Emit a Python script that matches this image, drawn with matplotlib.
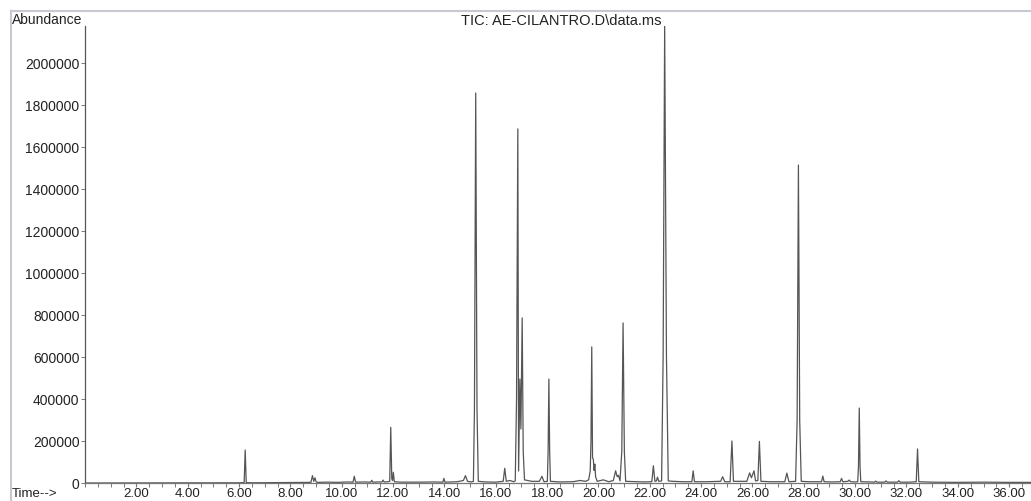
import matplotlib
matplotlib.use("Agg")
import matplotlib.pyplot as plt
from matplotlib.lines import Line2D
from matplotlib.ticker import FixedLocator, MultipleLocator

plt.rcParams['font.family'] = ['Liberation Sans', 'DejaVu Sans']

# retention time (min) and abundance of the TIC trace
rt = [0.05, 6.00, 6.20, 6.24, 6.28, 6.50,
      8.00, 8.80, 8.86, 8.91, 8.96, 9.00, 9.05, 9.40,
      9.90, 10.20, 10.44, 10.49, 10.54, 10.90, 11.13, 11.17, 11.21, 11.40, 11.57, 11.61, 11.65,
      11.80, 11.87, 11.91, 11.95, 11.98, 12.01, 12.05, 12.30,
      13.00, 13.60, 13.94, 13.98, 14.02, 14.50, 14.74, 14.82, 14.90, 15.05,
      15.13, 15.17, 15.22, 15.27, 15.32, 15.60, 16.00,
      16.29, 16.35, 16.41, 16.55, 16.70,
      16.76, 16.81, 16.86, 16.89, 16.94, 16.98, 17.03, 17.07, 17.12, 17.40,
      17.70, 17.80, 17.88, 18.01, 18.04, 18.07, 18.10, 18.13, 18.50, 19.00, 19.29, 19.50,
      19.62, 19.68, 19.71, 19.74, 19.77, 19.80, 19.83, 19.86, 19.89, 19.95, 20.19, 20.40,
      20.58, 20.67, 20.73, 20.78, 20.84, 20.91, 20.96, 21.01, 21.06, 21.50, 21.80,
      22.08, 22.14, 22.20, 22.26, 22.30, 22.35, 22.46, 22.52, 22.58, 22.65, 22.72, 22.90,
      23.30, 23.64, 23.69, 23.74, 24.20, 24.76, 24.84, 24.92, 25.13, 25.20, 25.26, 25.50,
      25.78, 25.89, 25.96, 26.06, 26.12, 26.21, 26.27, 26.33, 26.70, 27.26, 27.34, 27.42,
      27.68, 27.74, 27.79, 27.84, 27.90, 28.20, 28.69, 28.74, 28.79, 29.10, 29.42, 29.47, 29.52,
      29.72, 29.77, 29.82, 30.00,
      30.10, 30.13, 30.16, 30.19, 30.22, 30.60,
      30.75, 30.80, 30.85, 31.15, 31.20, 31.25, 31.65, 31.70, 31.75,
      32.10, 32.38, 32.43, 32.48,
      33.00, 34.00, 35.00, 36.00, 36.85]

abundance = [0, 1000, 2000, 157000, 2000, 1000,
             2000, 3000, 35000, 8000, 25000, 6000, 3000, 4000,
             3000, 5000, 4000, 32000, 4000, 5000, 4000, 13000, 4000, 5000, 5000, 14000, 5000,
             6000, 8000, 265000, 20000, 12000, 51000, 6000, 4000,
             4000, 5000, 4000, 22000, 4000, 6000, 12000, 35000, 8000, 5000,
             8000, 350000, 1857000, 350000, 8000, 5000, 4000,
             8000, 70000, 8000, 12000, 6000,
             10000, 400000, 1686000, 57000, 495000, 257000, 786000, 150000, 15000, 8000,
             8000, 32000, 6000, 8000, 150000, 495000, 150000, 8000, 5000, 6000, 12000, 8000,
             15000, 58000, 200000, 648000, 120000, 114000, 60000, 90000, 30000, 8000, 15000, 6000,
             12000, 58000, 30000, 37000, 10000, 150000, 762000, 150000, 8000, 6000, 5000,
             6000, 82000, 8000, 10000, 28000, 8000, 10000, 600000, 2176000, 600000, 10000, 8000,
             6000, 6000, 58000, 6000, 6000, 8000, 30000, 6000, 6000, 200000, 8000, 8000,
             8000, 48000, 25000, 58000, 10000, 12000, 198000, 8000, 6000, 6000, 47000, 6000,
             8000, 300000, 1514000, 300000, 8000, 6000, 6000, 33000, 6000, 5000, 6000, 22000, 6000,
             8000, 14000, 6000, 5000,
             6000, 80000, 357000, 80000, 6000, 5000,
             4000, 9000, 4000, 4000, 10000, 4000, 4000, 11000, 4000,
             4000, 6000, 162000, 6000,
             4000, 3000, 4000, 3000, 3000]

x_ticks = [2, 4, 6, 8, 10, 12, 14, 16, 18, 20, 22, 24, 26, 28, 30, 32, 34, 36]
x_labels = ["2.00", "4.00", "6.00", "8.00", "10.00", "12.00", "14.00", "16.00", "18.00",
            "20.00", "22.00", "24.00", "26.00", "28.00", "30.00", "32.00", "34.00", "36.00"]
y_ticks = [0, 200000, 400000, 600000, 800000, 1000000, 1200000, 1400000, 1600000, 1800000, 2000000]
y_labels = ["0", "200000", "400000", "600000", "800000", "1000000", "1200000",
            "1400000", "1600000", "1800000", "2000000"]

W, H = 1031, 502
fig = plt.figure(figsize=(W / 100, H / 100), dpi=100)
ax = fig.add_axes([85 / W, 18 / H, 1 - 85 / W, (484 - 27) / H])

ax.plot(rt, abundance, color="#555555", lw=0.9)
ax.set_xlim(0, 36.85)
ax.set_ylim(0, 2176000)

ax.spines["top"].set_visible(False)
ax.spines["right"].set_visible(False)
ax.spines["left"].set_color("#555555")
ax.spines["bottom"].set_color("#777777")
ax.spines["left"].set_linewidth(0.9)
ax.spines["bottom"].set_linewidth(0.9)

ax.xaxis.set_major_locator(FixedLocator(x_ticks))
ax.set_xticklabels(x_labels)
ax.xaxis.set_minor_locator(MultipleLocator(0.5))
ax.yaxis.set_major_locator(FixedLocator(y_ticks))
ax.set_yticklabels(y_labels)
ax.tick_params(axis="x", which="major", length=3, width=0.8, color="#777777",
               labelsize=9.5, pad=0, labelcolor="#222222")
ax.tick_params(axis="x", which="minor", length=3, width=0.7, color="#777777")
ax.tick_params(axis="y", length=3, width=0.7, color="#777777", labelsize=10, pad=1,
               labelcolor="#222222")

fig.text(12 / W, 1 - 20 / H, "Abundance", fontsize=10, ha="left", va="center", color="#222222")
fig.text(561 / W, 1 - 21 / H, "TIC: AE-CILANTRO.D\\data.ms", fontsize=10.5, ha="center",
         va="center", color="#222222")
fig.text(12 / W, 1 - 494 / H, "Time-->", fontsize=9.5, ha="left", va="center", color="#222222")

# light frame around the plot
fig.add_artist(Line2D([11 / W, 1], [1 - 12 / H, 1 - 12 / H], transform=fig.transFigure,
                      color="#c8c8d0", lw=1.5))
fig.add_artist(Line2D([11 / W, 11 / W], [0, 1 - 12 / H], transform=fig.transFigure,
                      color="#c8c8d0", lw=1.5))

fig.savefig("out.png", dpi=100)
